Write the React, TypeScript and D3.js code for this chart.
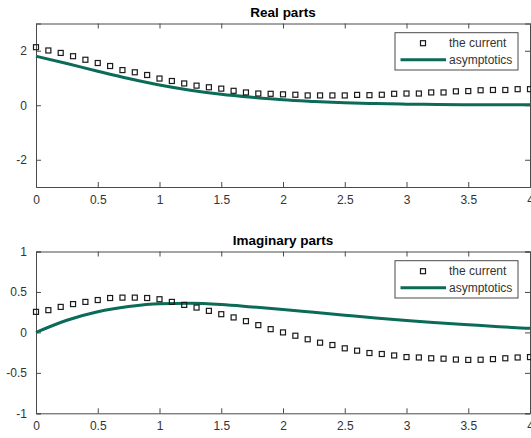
import { useEffect, useRef } from 'react'
import * as d3 from 'd3'

// sample positions of "the current" markers
const X_MARKERS = d3.range(0, 41).map(i => i / 10)
// sample positions of the asymptotic curves
const X_ASYM = [0, 0.25, 0.5, 0.75, 1, 1.25, 1.5, 1.75, 2, 2.25, 2.5, 2.75, 3, 3.25, 3.5, 3.75, 4]

const REAL_CURRENT = [
  2.13, 2.01, 1.92, 1.80, 1.67, 1.55, 1.44, 1.29, 1.21, 1.11,
  0.98, 0.89, 0.80, 0.72, 0.66, 0.61, 0.53, 0.47, 0.43, 0.42,
  0.40, 0.385, 0.36, 0.36, 0.36, 0.36, 0.38, 0.37, 0.385, 0.42,
  0.43, 0.43, 0.47, 0.47, 0.51, 0.52, 0.55, 0.56, 0.56, 0.59, 0.59,
]
const REAL_ASYM = [1.80, 1.53, 1.25, 0.98, 0.74, 0.55, 0.40, 0.29, 0.20, 0.14, 0.09, 0.06, 0.04, 0.03, 0.02, 0.02, 0.02]

const IMAG_CURRENT = [
  0.254, 0.275, 0.315, 0.35, 0.377, 0.40, 0.425, 0.43, 0.43, 0.425,
  0.41, 0.377, 0.34, 0.307, 0.266, 0.225, 0.185, 0.139, 0.09, 0.04,
  0.0, -0.041, -0.085, -0.127, -0.156, -0.197, -0.226, -0.255, -0.267, -0.285,
  -0.305, -0.31, -0.32, -0.325, -0.335, -0.34, -0.338, -0.33, -0.32, -0.31, -0.305,
]
const IMAG_ASYM = [0.0, 0.15, 0.255, 0.32, 0.355, 0.36, 0.345, 0.315, 0.283, 0.248, 0.213, 0.178, 0.147, 0.12, 0.095, 0.07, 0.05]

const X_TICKS = [0, 0.5, 1, 1.5, 2, 2.5, 3, 3.5, 4]
const REAL_Y_TICKS = [-2, 0, 2]
const IMAG_Y_TICKS = [-1, -0.5, 0, 0.5, 1]

const LEGEND_LABELS = ['the current', 'asymptotics']

const W = 531
const H = 438
const LINE_COLOR = '#0b6b58'
const AXIS_COLOR = '#4a4a4a'
const TEXT_COLOR = '#333333'
const FONT = 'Arial, "Liberation Sans", Helvetica, sans-serif'

interface Panel {
  title: string
  top: number
  bottom: number
  yDomain: [number, number]
  yTicks: number[]
  current: number[]
  asym: number[]
}

const PANELS: Panel[] = [
  { title: 'Real parts', top: 23.5, bottom: 187, yDomain: [-3, 3], yTicks: REAL_Y_TICKS, current: REAL_CURRENT, asym: REAL_ASYM },
  { title: 'Imaginary parts', top: 251.5, bottom: 413.3, yDomain: [-1, 1], yTicks: IMAG_Y_TICKS, current: IMAG_CURRENT, asym: IMAG_ASYM },
]

export default function App() {
  const svgRef = useRef<SVGSVGElement>(null)

  useEffect(() => {
    const svgEl = svgRef.current
    if (!svgEl) return
    const root = d3.select(svgEl)
    root.selectAll('*').remove()

    const left = 36
    const right = 530
    const x = d3.scaleLinear().domain([0, 4]).range([left, right])

    PANELS.forEach(p => {
      const y = d3.scaleLinear().domain(p.yDomain).range([p.bottom, p.top])
      const g = root.append('g')

      // title
      g.append('text')
        .attr('x', (left + right) / 2).attr('y', p.top - 6.5)
        .attr('text-anchor', 'middle')
        .attr('font-family', FONT).attr('font-size', 13.5).attr('font-weight', 'bold')
        .attr('fill', '#000')
        .text(p.title)

      // axes with inward ticks (box on)
      const tickLen = 5
      const axisB = d3.axisBottom(x).tickValues(X_TICKS).tickSize(-tickLen).tickPadding(8).tickFormat(d => `${d}`)
      const axisT = d3.axisTop(x).tickValues(X_TICKS).tickSize(-tickLen).tickFormat(() => '')
      const axisL = d3.axisLeft(y).tickValues(p.yTicks).tickSize(-tickLen).tickPadding(9).tickFormat(d => `${d}`)
      const axisR = d3.axisRight(y).tickValues(p.yTicks).tickSize(-tickLen).tickFormat(() => '')

      const style = (sel: d3.Selection<SVGGElement, unknown, null, undefined>) => {
        sel.select('.domain').attr('stroke', AXIS_COLOR).attr('stroke-width', 1)
        sel.selectAll('line').attr('stroke', AXIS_COLOR)
        sel.selectAll('text').attr('font-family', FONT).attr('font-size', 12).attr('fill', TEXT_COLOR)
      }

      g.append('g').attr('transform', `translate(0,${p.bottom})`).call(axisB).call(style)
      g.append('g').attr('transform', `translate(0,${p.top})`).call(axisT).call(style)
      g.append('g').attr('transform', `translate(${left},0)`).call(axisL).call(style)
      g.append('g').attr('transform', `translate(${right},0)`).call(axisR).call(style)

      // asymptotic curve
      const line = d3.line<number>()
        .x((_, i) => x(X_ASYM[i]))
        .y(d => y(d))
        .curve(d3.curveMonotoneX)
      g.append('path')
        .attr('d', line(p.asym))
        .attr('fill', 'none')
        .attr('stroke', LINE_COLOR)
        .attr('stroke-width', 3)

      // current markers
      const s = 5
      g.selectAll('rect.mk')
        .data(p.current)
        .join('rect')
        .attr('class', 'mk')
        .attr('x', (_, i) => x(X_MARKERS[i]) - s / 2)
        .attr('y', d => y(d) - s / 2)
        .attr('width', s).attr('height', s)
        .attr('fill', 'none')
        .attr('stroke', '#1a1a1a')
        .attr('stroke-width', 1.2)

      // legend
      const lx = 395, ly = p.top + 9.2, lw = 123, lh = 37.3
      const lg = g.append('g')
      lg.append('rect')
        .attr('x', lx).attr('y', ly).attr('width', lw).attr('height', lh)
        .attr('fill', '#fff').attr('stroke', AXIS_COLOR).attr('stroke-width', 1)
      const row1 = ly + 10.5
      const row2 = ly + 27
      lg.append('rect')
        .attr('x', 423 - s / 2).attr('y', row1 - s / 2).attr('width', s).attr('height', s)
        .attr('fill', 'none').attr('stroke', '#1a1a1a').attr('stroke-width', 1.2)
      lg.append('line')
        .attr('x1', 400.5).attr('x2', 446).attr('y1', row2).attr('y2', row2)
        .attr('stroke', LINE_COLOR).attr('stroke-width', 3)
      ;[row1, row2].forEach((ry, i) => {
        lg.append('text')
          .attr('x', 449).attr('y', ry).attr('dy', '0.35em')
          .attr('font-family', FONT).attr('font-size', 12).attr('fill', TEXT_COLOR)
          .text(LEGEND_LABELS[i])
      })
    })
  }, [])

  return (
    <svg
      ref={svgRef}
      width={W}
      height={H}
      style={{ position: 'absolute', left: 0, top: 0, background: '#fff', display: 'block' }}
    />
  )
}
